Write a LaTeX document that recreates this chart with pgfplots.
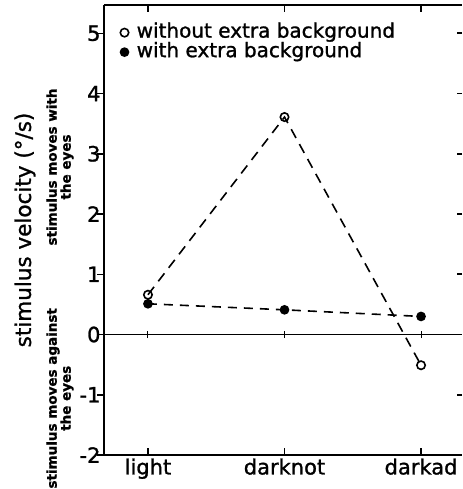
\documentclass[border=0pt]{standalone}
\usepackage{pgfplots}
\pgfplotsset{compat=1.18}
\usetikzlibrary{calc}
\usepackage{fontspec}
\setmainfont{DejaVu Sans}[FakeBold=1.2]

\begin{document}
\begin{tikzpicture}
\begin{axis}[
    scale only axis,
    width=358bp, height=450bp,
    xmin=-0.322, xmax=2.30,
    ymin=-2, ymax=5.47,
    axis x line*=box,
    axis y line*=left,
    axis line style={line width=1.8bp},
    xtick={0,1,2},
    xticklabels={light,darknot,darkad},
    ytick={-2,-1,0,1,2,3,4,5},
    tick align=inside,
    major tick length=7bp,
    tick style={line width=1.5bp, black},
    y tick style={xshift=-7bp},
    tick label style={font=\fontsize{21bp}{22bp}\selectfont},
    /pgf/number format/assume math mode=true,
    extra y ticks={0},
    extra y tick labels={},
    extra y tick style={grid=major, major grid style={black, line width=1bp}},
    legend style={draw=none, fill=none, at={(rel axis cs:0.045,0.959)}, anchor=north west,
        font=\fontsize{20bp}{20bp}\selectfont, row sep=1.5bp, inner sep=0pt,
        nodes={inner sep=0pt, text height=14bp, text depth=4bp},
        /tikz/every odd column/.append style={column sep=8bp}},
    legend cell align=left,
    legend image code/.code={\draw[#1, solid] plot coordinates {(0bp,0bp)};},
]
\addplot[black, line width=1.6bp, dash pattern=on 10bp off 7bp,
    mark=o, mark size=4.2bp, mark options={solid, fill=white, line width=1.6bp}]
    coordinates {(0,0.66) (1,3.61) (2,-0.51)};
\addlegendentry{without extra background}
\addplot[black, line width=1.6bp, dash pattern=on 9bp off 7bp,
    mark=*, mark size=4bp, mark options={solid, fill=black}]
    coordinates {(0,0.51) (1,0.41) (2,0.30)};
\addlegendentry{with extra background}

\coordinate (sw) at (rel axis cs:0,0);
\coordinate (ne) at (rel axis cs:1,1);
\coordinate (z0) at (axis cs:0,0);
\coordinate (z1) at (axis cs:1,0);
\coordinate (z2) at (axis cs:2,0);
\coordinate (ylab) at (rel axis cs:0,0.5);
\coordinate (lab1) at (rel axis cs:0,0.64);
\coordinate (lab2) at (rel axis cs:0,0.126);
\end{axis}

% little crosses on the zero line
\foreach \c in {z0,z1,z2}
  \draw[line width=1bp] (\c) ++(0,-3.5bp) -- ++(0,7bp);
% right-hand ticks without a spine (one data unit = 450/7.47 bp)
\foreach \k in {-1,1,2,3,4,5}
  \draw[line width=1.8bp] ($(ne |- z0) + (0,\k*60.24bp)$) -- ++(-5bp,0);

\node[rotate=90, font=\fontsize{21.5bp}{23bp}\selectfont]
    at ([xshift=-79bp]ylab) {stimulus velocity (°/s)};
\node[rotate=90, align=center, font=\fontsize{13.5bp}{14bp}\selectfont\bfseries]
    at ([xshift=-44bp]lab1) {stimulus moves with\\the eyes};
\node[rotate=90, align=center, font=\fontsize{13.5bp}{14bp}\selectfont\bfseries]
    at ([xshift=-44bp]lab2) {stimulus moves against\\the eyes};

\pgfresetboundingbox
\path (sw) ++(-104bp,-34bp) rectangle ([yshift=5bp]ne);
\end{tikzpicture}
\end{document}
